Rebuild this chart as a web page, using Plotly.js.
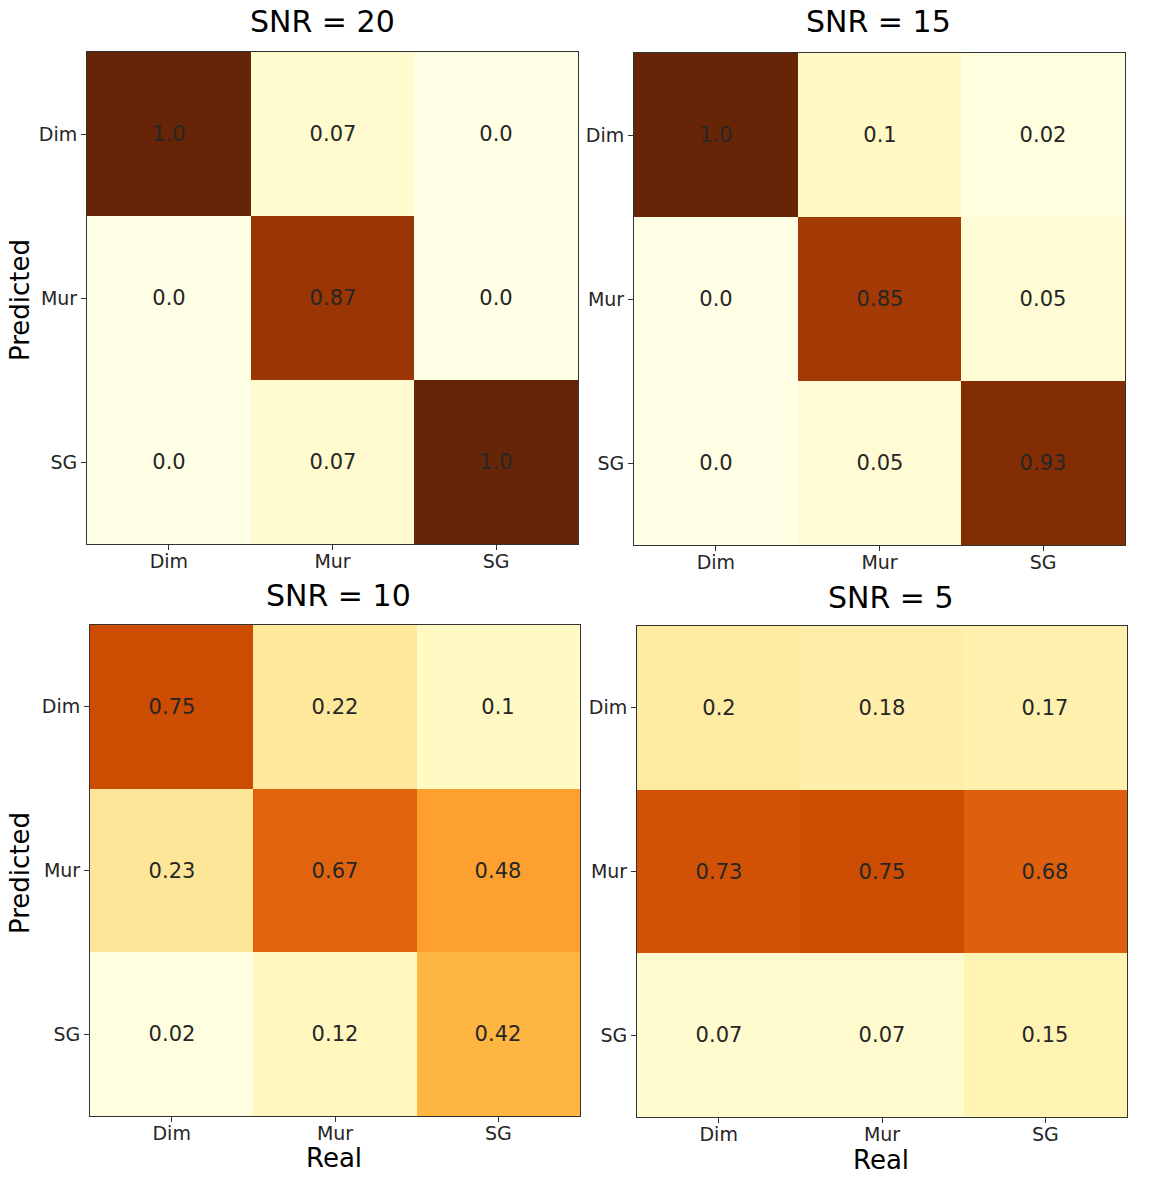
<!DOCTYPE html>
<html>
<head>
<meta charset="utf-8">
<script src="https://cdn.plot.ly/plotly-3.0.1.min.js"></script>
<style>html,body{margin:0;padding:0;background:#fff;}</style>
</head>
<body>
<div id="chart" style="width:1150px;height:1200px;"></div>
<script>
const realLabels = ["Dim", "Mur", "SG"];
const predictedLabels = ["Dim", "Mur", "SG"];
const snrTitles = ["SNR = 20", "SNR = 15", "SNR = 10", "SNR = 5"];
// rows = Predicted (Dim, Mur, SG), columns = Real (Dim, Mur, SG)
const snr20 = [[1.0, 0.07, 0.0], [0.0, 0.87, 0.0], [0.0, 0.07, 1.0]];
const snr15 = [[1.0, 0.1, 0.02], [0.0, 0.85, 0.05], [0.0, 0.05, 0.93]];
const snr10 = [[0.75, 0.22, 0.1], [0.23, 0.67, 0.48], [0.02, 0.12, 0.42]];
const snr5 = [[0.2, 0.18, 0.17], [0.73, 0.75, 0.68], [0.07, 0.07, 0.15]];

const matrices = [snr20, snr15, snr10, snr5];

const ylorbr = [
  [0.0, "#ffffe5"], [0.125, "#fff7bc"], [0.25, "#fee391"], [0.375, "#fec44f"],
  [0.5, "#fe9929"], [0.625, "#ec7014"], [0.75, "#cc4c02"], [0.875, "#993404"], [1.0, "#662506"]
];

function fmt(v) { return Number.isInteger(v) ? v.toFixed(1) : String(v); }

const W = 1150, H = 1200;
// pixel boxes [x0, x1, y0, y1] (y from top)
const boxes = [[87, 578, 52, 544], [634, 1125, 53, 545], [90, 580, 625, 1116], [637, 1127, 626, 1117]];
const titlePos = [[322, 22], [878, 22], [338, 596], [891, 597]];

const font = "DejaVu Sans, sans-serif";
const traces = [];
const layout = {
  width: W, height: H,
  margin: {l: 0, r: 0, t: 0, b: 0},
  paper_bgcolor: "#fff", plot_bgcolor: "#fff",
  showlegend: false,
  font: {family: font, color: "#262626"},
  annotations: []
};

matrices.forEach((m, i) => {
  const n = i + 1;
  const xa = n === 1 ? "x" : "x" + n;
  const ya = n === 1 ? "y" : "y" + n;
  traces.push({
    type: "heatmap",
    x: realLabels, y: predictedLabels, z: m,
    text: m.map(r => r.map(fmt)),
    texttemplate: "%{text}",
    textfont: {size: 21, color: "#262626", family: font},
    colorscale: ylorbr, zmin: 0, zmax: 1,
    showscale: false, hoverongaps: false,
    xaxis: xa, yaxis: ya, xgap: 0, ygap: 0
  });
  const b = boxes[i];
  const axCommon = {
    showgrid: false, zeroline: false, showline: true, mirror: true,
    linecolor: "#333", linewidth: 1,
    ticks: "outside", ticklen: 5, tickwidth: 1, tickcolor: "#333",
    tickfont: {size: 19, family: font, color: "#262626"},
    fixedrange: true
  };
  layout["xaxis" + (n === 1 ? "" : n)] = Object.assign({}, axCommon, {
    domain: [b[0] / W, b[1] / W], anchor: ya, type: "category",
    ticklabelstandoff: -5
  });
  layout["yaxis" + (n === 1 ? "" : n)] = Object.assign({}, axCommon, {
    domain: [1 - b[3] / H, 1 - b[2] / H], anchor: xa, type: "category",
    autorange: "reversed", ticklabelstandoff: 0
  });
  layout.annotations.push({
    text: snrTitles[i], xref: "paper", yref: "paper",
    x: titlePos[i][0] / W, y: 1 - titlePos[i][1] / H,
    xanchor: "center", yanchor: "middle", showarrow: false,
    font: {size: 30, family: font, color: "#000"}
  });
});

// Axis titles
[[20, 300], [20, 873]].forEach(p => {
  layout.annotations.push({
    text: "Predicted", xref: "paper", yref: "paper",
    x: p[0] / W, y: 1 - p[1] / H, xanchor: "center", yanchor: "middle",
    textangle: -90, showarrow: false, font: {size: 26, family: font, color: "#000"}
  });
});
[[334, 1158], [881, 1160]].forEach(p => {
  layout.annotations.push({
    text: "Real", xref: "paper", yref: "paper",
    x: p[0] / W, y: 1 - p[1] / H, xanchor: "center", yanchor: "middle",
    showarrow: false, font: {size: 26, family: font, color: "#000"}
  });
});

Plotly.newPlot("chart", traces, layout, {staticPlot: true});
</script>
</body>
</html>
